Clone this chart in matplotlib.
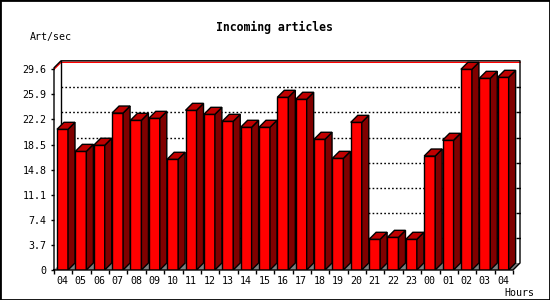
import matplotlib
matplotlib.use("Agg")
import matplotlib.pyplot as plt
from matplotlib.patches import Rectangle

hours = ["04", "05", "06", "07", "08", "09", "10", "11", "12", "13", "14", "15", "16",
         "17", "18", "19", "20", "21", "22", "23", "00", "01", "02", "03", "04"]
rate = [20.75, 17.5, 18.4, 23.15, 22.08, 22.37, 16.33, 23.55, 22.96, 21.93, 21.05, 21.05,
        25.47, 25.18, 19.28, 16.47, 21.78, 4.53, 4.82, 4.53, 16.81, 19.13, 29.6, 28.27, 28.42]
yticks = [0, 3.7, 7.4, 11.1, 14.8, 18.5, 22.2, 25.9, 29.6]
ymax = 29.6

W, H = 550, 300
fig = plt.figure(figsize=(5.5, 3), dpi=100)
font = "DejaVu Sans Mono"

# plot area in pixels
x0, x1 = 54, 521          # front axis left, back wall right
y0, y1 = 270, 60.5        # floor, back wall top
cat_px = (513 - 54) / 25.0
ppu = (270 - 69.3) / ymax
ax = fig.add_axes([x0 / W, 1 - y0 / H, (x1 - x0) / W, (y0 - y1) / H])
ax.set_xlim(0, (x1 - x0) / cat_px)
ax.set_ylim(0, (y0 - y1) / ppu)

n = len(rate)
ddx = 7 / cat_px   # depth of the 3d effect
ddy = 7 / ppu
off = 3 / cat_px
bw = 11 / cat_px
top = ymax + 1.5 / ppu

# floor
ax.fill([0, n, n + ddx, ddx], [0, 0, ddy, ddy], color="#808080", lw=0, zorder=1)

# gridlines on the back wall
for v in yticks[1:-1]:
    ax.plot([ddx, n + ddx], [v + ddy, v + ddy], color="black", lw=1,
            ls=(0, (1.2, 1.6)), zorder=1)
    ax.plot([n + ddx - 2 / cat_px, n + ddx], [v + ddy, v + ddy], color="black", lw=1, zorder=1)

# max line
ax.plot([0, ddx, n + ddx], [ymax, ymax + ddy, ymax + ddy], color="red", lw=1, zorder=1)

# frame
ax.plot([0, 0, ddx, n + ddx, n + ddx, n, 0], [0, top, top + ddy, top + ddy, ddy, 0, 0],
        color="black", lw=1, clip_on=False, zorder=6)
ax.plot([ddx, ddx], [ddy, top + ddy], color="black", lw=1, zorder=1)

# bars
xs = [i + off for i in range(n)]
ax.bar(xs, rate, width=bw, align="edge", color="#ff0000", edgecolor="black", lw=1, zorder=3)
for x, v in zip(xs, rate):
    ax.fill([x + bw, x + bw + ddx, x + bw + ddx, x + bw], [0, ddy, v + ddy, v],
            facecolor="#800000", edgecolor="black", lw=1, zorder=3)
    ax.fill([x, x + ddx, x + bw + ddx, x + bw], [v, v + ddy, v + ddy, v],
            facecolor="#c00000", edgecolor="black", lw=1, zorder=3)

for s in ax.spines.values():
    s.set_visible(False)
ax.set_facecolor("none")

ax.set_yticks(yticks)
ax.set_yticklabels([("%g" % t) for t in yticks], fontfamily=font, fontsize=7.2)
ax.tick_params(axis="y", direction="out", length=2, width=1, pad=3.5)
ax.set_xticks(range(n + 1))
ax.set_xticklabels([])
ax.set_xticks([x + bw / 2 for x in xs], minor=True)
ax.set_xticklabels(hours, minor=True, fontfamily=font, fontsize=7.2)
ax.tick_params(axis="x", which="major", direction="out", length=3, width=1)
ax.tick_params(axis="x", which="minor", length=0, pad=4)

fig.text(274 / W, 1 - 27 / H, "Incoming articles", ha="center", va="center",
         fontfamily=font, fontweight="bold", fontsize=8.3)
fig.text(29.5 / W, 1 - 37 / H, "Art/sec", ha="left", va="center", fontfamily=font, fontsize=7.2)
fig.text(504 / W, 1 - 292.5 / H, "Hours", ha="left", va="center", fontfamily=font, fontsize=7.2)

fig.patches.append(Rectangle((0, 0), 1, 1, transform=fig.transFigure, fill=False,
                             edgecolor="black", lw=2))

fig.savefig("out.png", dpi=100)
